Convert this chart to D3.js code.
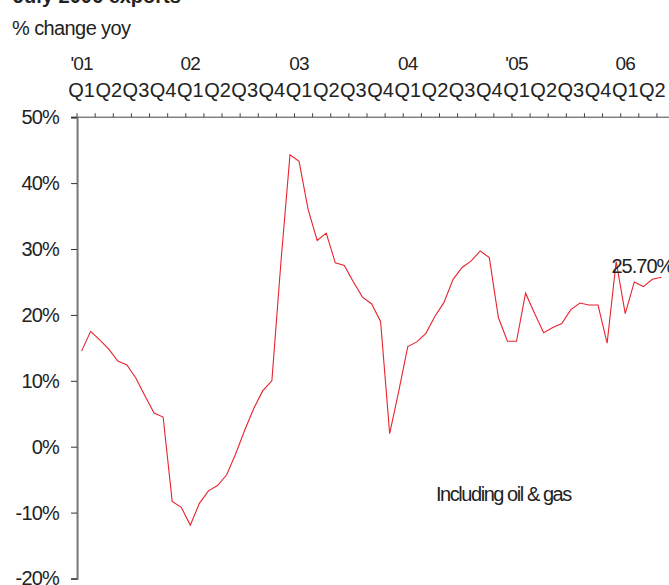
<!DOCTYPE html>
<meta charset="utf-8">
<style>
  body { margin: 0; background: #fff; }
  text { font-family: "Liberation Sans", Arial, sans-serif; fill: #222; }
</style>
<body>
<script src="https://cdn.jsdelivr.net/npm/d3@7"></script>
<script>

// Chart data: monthly yoy % change in exports, Feb 2001 - Jun 2006
var title = "July 2006 exports",
    subtitle = "% change yoy",
    seriesLabel = "Including oil & gas",
    lastLabel = "25.70%";

var yearLabels = ["'01", "02", "03", "04", "'05", "06"];
var quarterLabels = ["Q1", "Q2", "Q3", "Q4"];
var yTicks = [-20, -10, 0, 10, 20, 30, 40, 50];

var firstMonth = 1;   // months counted from Jan 2001
var monthCount = 66;  // Jan 2001 .. Jun 2006

var exportsYoy = [
  14.5, 17.5, 16.2, 14.8, 13.0, 12.4, 10.4, 7.7, 5.1, 4.5, -8.3,
  -9.2, -11.9, -8.6, -6.7, -5.9, -4.3, -1.1, 2.5, 5.8, 8.5, 10.0,
  28.0, 44.3, 43.3, 36.0, 31.3, 32.4, 27.9, 27.5, 25.0, 22.7, 21.7,
  19.0, 2.0, 8.4, 15.2, 15.9, 17.2, 19.8, 21.9, 25.4, 27.2, 28.2,
  29.7, 28.7, 19.6, 16.0, 16.0, 23.3, 20.2, 17.3, 18.1, 18.7, 20.8,
  21.8, 21.5, 21.5, 15.7, 28.1, 20.2, 25.0, 24.3, 25.4, 25.7
];

var width = 669,
    height = 585;

var svg = d3.select("body").append("svg")
    .attr("width", width)
    .attr("height", height);

var x = d3.scaleLinear().domain([0, monthCount]).range([68, 666]),
    y = d3.scaleLinear().domain([-20, 50]).range([578.5, 117.2]);

// titles
svg.append("text")
    .attr("x", 13).attr("y", 3)
    .style("font-size", "20px")
    .style("font-weight", "bold")
    .text(title);

svg.append("text")
    .attr("x", 12).attr("y", 35)
    .style("font-size", "20px")
    .style("letter-spacing", "-0.6px")
    .text(subtitle);

// top category axis (ticks every 2 months)
var tickMonths = d3.range(firstMonth, monthCount, 2);
svg.append("line")
    .attr("x1", x(firstMonth) - 6).attr("x2", width)
    .attr("y1", y(50)).attr("y2", y(50))
    .attr("stroke", "#444").attr("stroke-width", 1);

svg.append("g")
  .selectAll("line")
  .data(tickMonths)
  .enter().append("line")
    .attr("x1", function(d) { return x(d); })
    .attr("x2", function(d) { return x(d); })
    .attr("y1", y(50))
    .attr("y2", y(50) - 4)
    .attr("stroke", "#444");

// year and quarter labels
svg.append("g")
  .selectAll("text")
  .data(yearLabels)
  .enter().append("text")
    .attr("x", function(d, i) { return x(i * 12 + 1.5); })
    .attr("y", 70)
    .attr("text-anchor", "middle")
    .style("font-size", "19px")
    .style("letter-spacing", "-0.8px")
    .text(function(d) { return d; });

var quarters = d3.range(monthCount / 3).map(function(i) { return quarterLabels[i % 4]; });
svg.append("g")
  .selectAll("text")
  .data(quarters)
  .enter().append("text")
    .attr("x", function(d, i) { return x(i * 3 + 1.5); })
    .attr("y", 97)
    .attr("text-anchor", "middle")
    .style("font-size", "20px")
    .style("letter-spacing", "0px")
    .text(function(d) { return d; });

// y axis
var yAxis = d3.axisLeft(y)
    .tickValues(yTicks)
    .tickSize(6)
    .tickPadding(12)
    .tickFormat(function(d) { return d + "%"; });

var gy = svg.append("g")
    .attr("transform", "translate(" + x(firstMonth) + ",0)")
    .call(yAxis);

gy.select(".domain").attr("stroke", "#777").attr("stroke-width", 2);
gy.selectAll(".tick line").attr("stroke", "#333");
gy.selectAll(".tick text")
    .attr("fill", "#222")
    .style("font-family", "'Liberation Sans', Arial, sans-serif")
    .style("font-size", "20px")
    .style("letter-spacing", "-0.8px");

// the series
var line = d3.line()
    .x(function(d, i) { return x(firstMonth + i + 0.5); })
    .y(function(d) { return y(d); });

svg.append("path")
    .datum(exportsYoy)
    .attr("d", line)
    .attr("fill", "none")
    .attr("stroke", "#e8232d")
    .attr("stroke-width", 1.1);

// labels inside the plot
var lastIndex = exportsYoy.length - 1;
svg.append("text")
    .attr("x", x(firstMonth + lastIndex + 0.5) - 50)
    .attr("y", y(exportsYoy[lastIndex]) - 4)
    .style("font-size", "20px")
    .style("letter-spacing", "-1px")
    .text(lastLabel);

svg.append("text")
    .attr("x", 436).attr("y", 501)
    .style("font-size", "20px")
    .style("letter-spacing", "-1.45px")
    .text(seriesLabel);

</script>
</body>
